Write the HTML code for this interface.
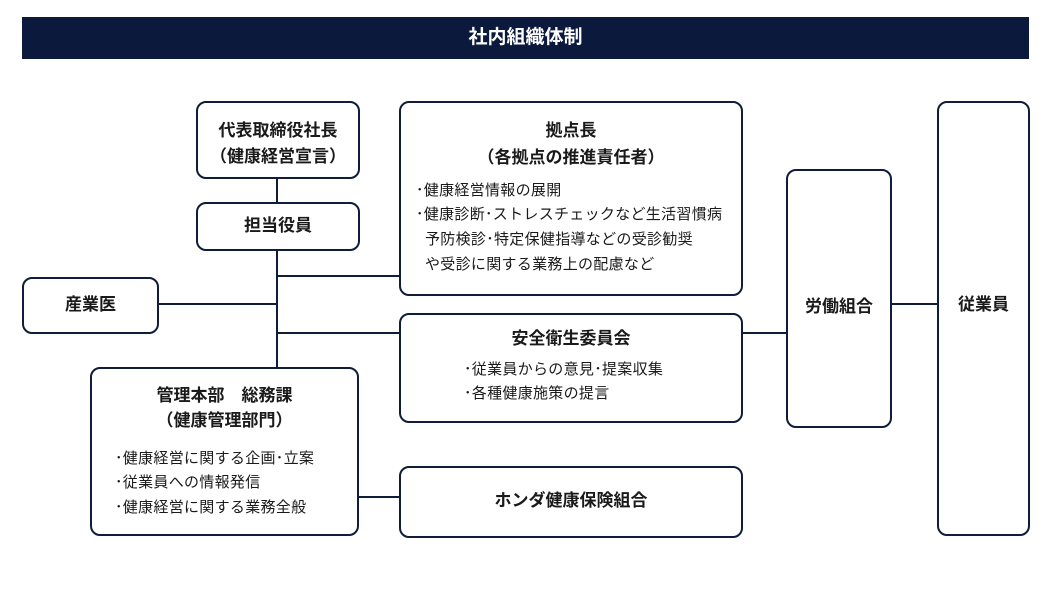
<!DOCTYPE html>
<html><head><meta charset="utf-8"><style>
body{margin:0;width:1050px;height:600px;background:#fff;position:relative;overflow:hidden;font-family:"Liberation Sans","Noto Sans CJK JP",sans-serif;color:#1a1a1a}
.b{position:absolute;border:2px solid #0f1c3a;border-radius:10px;box-sizing:border-box;background:#fff}
.l{position:absolute;background:#0f1c3a}
.t{position:absolute;line-height:24px;white-space:nowrap}
.c{text-align:center}
.h{font-size:17px;font-weight:bold}
.s{font-size:15px;letter-spacing:0.3px}
</style></head><body>
<div style="position:absolute;left:22px;top:17px;width:1007px;height:42px;background:#0b1a3c;color:#fff;font-size:19px;font-weight:bold;text-align:center;line-height:42px">社内組織体制</div>

<div class="l" style="left:276px;top:178px;width:2px;height:190px"></div>
<div class="l" style="left:277px;top:275px;width:123px;height:2px"></div>
<div class="l" style="left:158px;top:303px;width:120px;height:2px"></div>
<div class="l" style="left:277px;top:332px;width:123px;height:2px"></div>
<div class="l" style="left:358px;top:496px;width:42px;height:2px"></div>
<div class="l" style="left:742px;top:332px;width:45px;height:2px"></div>
<div class="l" style="left:891px;top:303px;width:47px;height:2px"></div>

<div class="b" style="left:196px;top:101px;width:164px;height:78px"></div>
<div class="t c h" style="left:196px;width:164px;top:119px">代表取締役社長</div>
<div class="t c h" style="left:196px;width:164px;top:145px">（健康経営宣言）</div>

<div class="b" style="left:196px;top:202px;width:164px;height:49px"></div>
<div class="t c h" style="left:196px;width:164px;top:214px">担当役員</div>

<div class="b" style="left:22px;top:277px;width:137px;height:57px"></div>
<div class="t c h" style="left:22px;width:137px;top:293px">産業医</div>

<div class="b" style="left:399px;top:101px;width:344px;height:195px"></div>
<div class="t c h" style="left:399px;width:344px;top:119px">拠点長</div>
<div class="t c h" style="left:399px;width:344px;top:146px">（各拠点の推進責任者）</div>
<div class="t s" style="left:416px;top:179px">･健康経営情報の展開</div>
<div class="t s" style="left:416px;top:203px">･健康診断･ストレスチェックなど生活習慣病</div>
<div class="t s" style="left:425px;top:228px">予防検診･特定保健指導などの受診勧奨</div>
<div class="t s" style="left:425px;top:253px">や受診に関する業務上の配慮など</div>

<div class="b" style="left:399px;top:313px;width:344px;height:110px"></div>
<div class="t c h" style="left:399px;width:344px;top:327px">安全衛生委員会</div>
<div class="t s" style="left:464px;top:358px">･従業員からの意見･提案収集</div>
<div class="t s" style="left:464px;top:382px">･各種健康施策の提言</div>

<div class="b" style="left:90px;top:367px;width:269px;height:169px"></div>
<div class="t c h" style="left:90px;width:269px;top:384px">管理本部　総務課</div>
<div class="t c h" style="left:90px;width:269px;top:409px">（健康管理部門）</div>
<div class="t s" style="left:115px;top:447px">･健康経営に関する企画･立案</div>
<div class="t s" style="left:115px;top:471px">･従業員への情報発信</div>
<div class="t s" style="left:115px;top:496px">･健康経営に関する業務全般</div>

<div class="b" style="left:399px;top:466px;width:344px;height:72px"></div>
<div class="t c h" style="left:399px;width:344px;top:489px">ホンダ健康保険組合</div>

<div class="b" style="left:786px;top:169px;width:106px;height:259px"></div>
<div class="t c h" style="left:786px;width:106px;top:295px">労働組合</div>

<div class="b" style="left:937px;top:101px;width:93px;height:435px"></div>
<div class="t c h" style="left:937px;width:93px;top:293px">従業員</div>
</body></html>
